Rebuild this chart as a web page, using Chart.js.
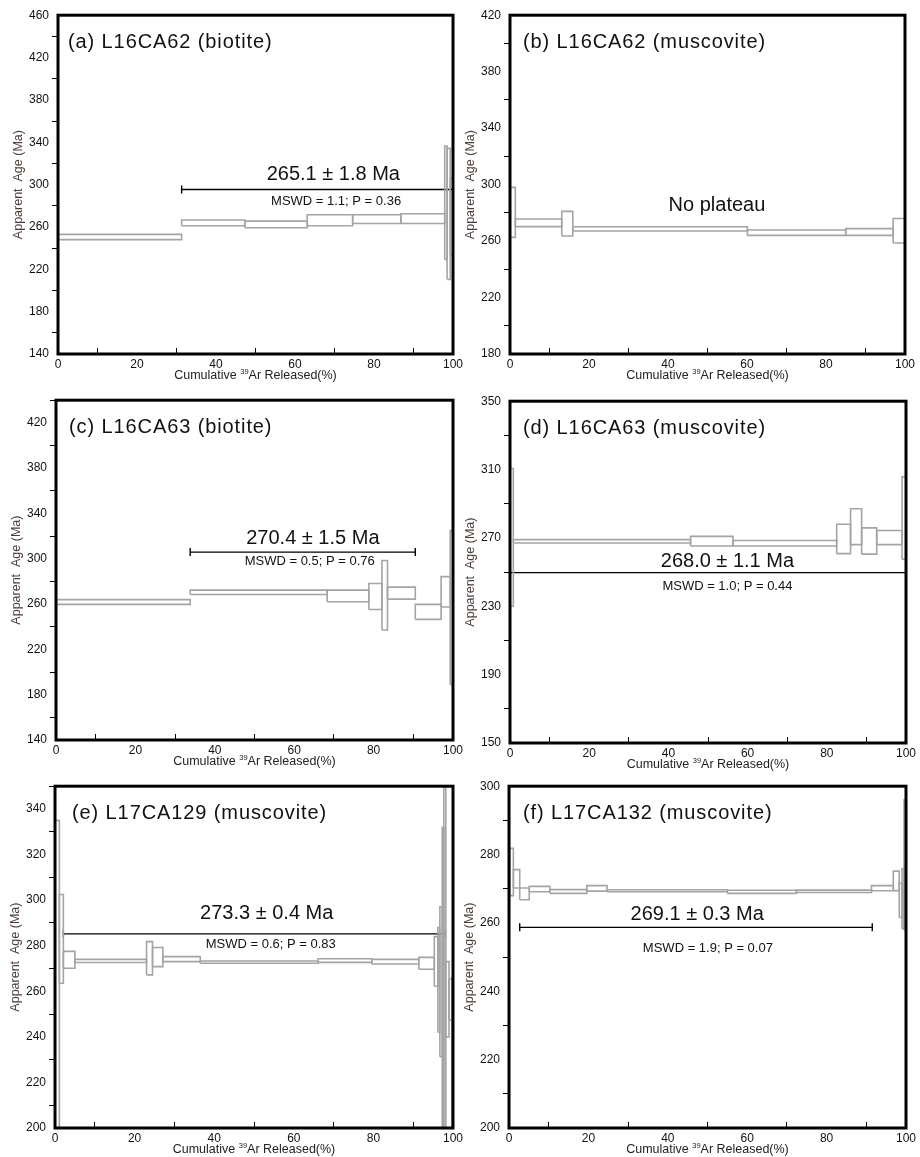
<!DOCTYPE html>
<html>
<head>
<meta charset="utf-8">
<script src="https://cdn.jsdelivr.net/npm/chart.js@4.4.1/dist/chart.umd.min.js"></script>
<style>
  html, body { margin: 0; padding: 0; background: #fff; overflow: hidden; }
  body { width: 920px; height: 1157px; position: relative; }
  canvas { position: absolute; }
</style>
</head>
<body>
<canvas id="pa"></canvas>
<canvas id="pb"></canvas>
<canvas id="pc"></canvas>
<canvas id="pd"></canvas>
<canvas id="pe"></canvas>
<canvas id="pf"></canvas>
<script>
// step edges (cumulative 39Ar %), apparent age (Ma), half height of each box (Ma)
const aEdges = [0, 31.3, 47.3, 63.1, 74.6, 86.8, 97.9, 98.5, 99.3, 100];
const aAges  = [250.5, 263.8, 262.4, 266.3, 267.4, 267.9, 282.9, 272.4, 269.7];
const aErrs  = [2.5, 2.7, 3.1, 5.2, 4.1, 4.6, 53.5, 61.9, 36.2];

const bEdges = [0, 1.35, 13.1, 15.9, 60.1, 85.0, 97.0, 100];
const bAges  = [280.3, 272.9, 272.3, 268.6, 265.9, 266.4, 267.3];
const bErrs  = [17.7, 2.7, 8.7, 1.5, 1.9, 2.4, 8.7];

const cEdges = [0, 33.8, 68.3, 78.8, 82.1, 83.5, 90.5, 97.0, 99.3, 100];
const cAges  = [261.8, 270.4, 267.2, 266.7, 267.8, 269.7, 253.1, 270.8, 257];
const cErrs  = [2.1, 1.9, 5.1, 11.5, 30.7, 5.3, 6.6, 13.4, 68];

const dEdges = [0, 0.84, 45.6, 56.3, 82.5, 86.0, 88.8, 92.6, 99.0, 100];
const dAges  = [270.3, 268.0, 268.1, 266.9, 269.4, 276.6, 268.2, 270.2, 281.6];
const dErrs  = [40.3, 1.0, 2.8, 1.6, 8.6, 10.5, 7.7, 4.1, 24.1];

const eEdges = [0, 1.1, 2.1, 5.0, 23.0, 24.5, 27.1, 36.5, 66.1, 79.6, 91.4, 95.3, 96.2, 96.7, 97.3, 97.7, 98.2, 99.0, 99.7, 100];
const eAges  = [265, 283, 273.8, 273.3, 274.5, 275.0, 274.1, 272.8, 273.5, 273.0, 272.3, 273.1, 265, 264.2, 262, 272, 256.5, 256.4, 232];
const eErrs  = [70, 19.5, 3.7, 0.7, 7.3, 4.2, 1.1, 0.5, 0.8, 1.0, 2.6, 10.9, 23, 32.9, 70, 90, 16.5, 9, 34];

const fEdges = [0, 0.2, 1.1, 2.7, 5.1, 10.3, 19.6, 24.7, 55.0, 72.4, 91.3, 96.8, 98.3, 99.0, 99.5, 100];
const fAges  = [275, 274.9, 272.9, 268.5, 269.9, 269.2, 270.1, 269.4, 269.1, 269.25, 270.15, 272.3, 266.6, 267, 277];
const fErrs  = [11, 6.9, 2.7, 1.7, 0.8, 0.55, 0.8, 0.3, 0.45, 0.35, 0.75, 2.85, 5.0, 8.8, 19];

// plateau bars: [from %, to %, drawn at age]
const aPlateau = [31.3, 100, 295.4];
const cPlateau = [33.8, 90.5, 305.9];
const dPlateau = [0, 100, 249.7];
const ePlateau = [2.1, 98.1, 285.2];
const fPlateau = [2.7, 91.5, 258.7];

const titles = ['(a) L16CA62 (biotite)', '(b) L16CA62 (muscovite)', '(c) L16CA63 (biotite)',
                '(d) L16CA63 (muscovite)', '(e) L17CA129 (muscovite)', '(f) L17CA132 (muscovite)'];
const ageLabels = ['265.1 ± 1.8 Ma', 'No plateau', '270.4 ± 1.5 Ma', '268.0 ± 1.1 Ma', '273.3 ± 0.4 Ma', '269.1 ± 0.3 Ma'];
const mswdLabels = ['MSWD = 1.1; P = 0.36', '', 'MSWD = 0.5; P = 0.76', 'MSWD = 1.0; P = 0.44', 'MSWD = 0.6; P = 0.83', 'MSWD = 1.9; P = 0.07'];

const FONT = "'Liberation Sans', Arial, sans-serif";
const BOX = '#a4a4a4';

// 패널 글자 + 테두리
const panelText = {
  id: 'panelText',
  afterDatasetsDraw(chart, args, o) {
    const { ctx, chartArea: ca, scales: { x, y } } = chart;
    ctx.save();
    ctx.strokeStyle = '#000';
    ctx.lineWidth = 3;
    ctx.strokeRect(ca.left, ca.top, ca.right - ca.left, ca.bottom - ca.top);

    ctx.fillStyle = '#111';
    ctx.textBaseline = 'middle';
    ctx.textAlign = 'left';
    ctx.font = `20px ${FONT}`;
    ctx.letterSpacing = '0.9px';
    ctx.fillText(o.title, ca.left + o.titleDx, ca.top + 27);
    ctx.letterSpacing = '0px';

    ctx.textAlign = 'center';
    ctx.font = `20px ${FONT}`;
    ctx.fillText(o.age, x.getPixelForValue(o.agePos[0]), y.getPixelForValue(o.agePos[1]));
    if (o.mswd) {
      ctx.font = `13px ${FONT}`;
      ctx.fillText(o.mswd, x.getPixelForValue(o.mswdPos[0]), y.getPixelForValue(o.mswdPos[1]));
    }

    // x axis title with superscript 39
    const big = `12.5px ${FONT}`, small = `7.5px ${FONT}`;
    const p1 = 'Cumulative ', p2 = '39', p3 = 'Ar Released(%)';
    ctx.font = big; const w1 = ctx.measureText(p1).width, w3 = ctx.measureText(p3).width;
    ctx.font = small; const w2 = ctx.measureText(p2).width;
    let tx = (ca.left + ca.right) / 2 - (w1 + w2 + w3) / 2;
    const ty = ca.bottom + 25;
    ctx.textAlign = 'left';
    ctx.textBaseline = 'alphabetic';
    ctx.fillStyle = '#222';
    ctx.font = big; ctx.fillText(p1, tx, ty); tx += w1;
    ctx.font = small; ctx.fillText(p2, tx, ty - 5); tx += w2;
    ctx.font = big; ctx.fillText(p3, tx, ty);
    ctx.restore();
  }
};
Chart.register(panelText);

const minorColor = c => (c.tick && c.tick.label === '') ? '#000' : 'rgba(0,0,0,0)';

function makePanel(id, area, yr, edges, ages, errs, plateau, idx, place) {
  const [L, T, R, B] = area;
  const cv = document.getElementById(id);
  cv.width = R - L + 58 + 24;
  cv.height = B - T + 42;
  cv.style.left = (L - 58) + 'px';
  cv.style.top = (T - 10) + 'px';

  const datasets = ages.map((age, i) => {
    const x0 = edges[i], x1 = edges[i + 1], lo = age - errs[i], hi = age + errs[i];
    return {
      data: [{ x: x0, y: lo }, { x: x1, y: lo }, { x: x1, y: hi }, { x: x0, y: hi }, { x: x0, y: lo }],
      borderColor: BOX, borderWidth: 1.6, pointRadius: 0, showLine: true, borderJoinStyle: 'miter',
    };
  });
  if (plateau) {
    datasets.push({
      data: [{ x: plateau[0], y: plateau[2] }, { x: plateau[1], y: plateau[2] }],
      borderColor: '#000', borderWidth: 1.4, showLine: true,
      pointStyle: 'line', rotation: 90, pointRadius: 4, pointBorderColor: '#000', pointBorderWidth: 1.4,
    });
  }

  new Chart(cv, {
    type: 'scatter',
    data: { datasets },
    options: {
      responsive: false,
      animation: false,
      events: [],
      layout: { padding: { top: 10, right: 24, left: 0, bottom: 0 } },
      plugins: {
        legend: { display: false },
        tooltip: { enabled: false },
        panelText: {
          title: titles[idx], titleDx: place.titleDx,
          age: ageLabels[idx], agePos: place.agePos,
          mswd: mswdLabels[idx], mswdPos: place.mswdPos,
        },
      },
      scales: {
        x: {
          type: 'linear', min: 0, max: 100,
          afterFit: s => { s.height = 32; },
          border: { display: false },
          grid: { drawOnChartArea: false, tickLength: -6, color: minorColor, lineWidth: 1 },
          ticks: {
            stepSize: 10, autoSkip: false, maxRotation: 0, padding: 9, color: '#111',
            font: { size: 12, family: FONT },
            callback: v => (v % 20 === 0 ? v : ''),
          },
        },
        y: {
          type: 'linear', min: yr[0], max: yr[1],
          afterFit: s => { s.width = 58; },
          border: { display: false },
          grid: { drawOnChartArea: false, tickLength: 6, color: minorColor, lineWidth: 1 },
          ticks: {
            stepSize: yr[3], autoSkip: false, padding: 3, color: '#111',
            font: { size: 12, family: FONT },
            callback: v => ((v - yr[0]) % yr[2] === 0 ? v : ''),
          },
          title: {
            display: true, text: 'Apparent  Age (Ma)', color: '#4b3e38',
            font: { size: 12.5, family: FONT }, padding: { top: 11.5, bottom: 0 },
          },
        },
      },
    },
  });
}

// area: [left, top, right, bottom]; y range: [min, max, label step, minor step]
makePanel('pa', [58, 15, 453, 354], [140, 460, 40, 20], aEdges, aAges, aErrs, aPlateau, 0,
  { titleDx: 10, agePos: [69.7, 309.9], mswdPos: [70.4, 283.8] });
makePanel('pb', [510, 15, 905, 354], [180, 420, 40, 20], bEdges, bAges, bErrs, null, 1,
  { titleDx: 13, agePos: [52.4, 285.5], mswdPos: [0, 0] });
makePanel('pc', [56, 400, 453, 740], [140, 440, 40, 20], cEdges, cAges, cErrs, cPlateau, 2,
  { titleDx: 13, agePos: [64.7, 318.0], mswdPos: [63.9, 297.4] });
makePanel('pd', [510, 401, 906, 743], [150, 350, 40, 20], dEdges, dAges, dErrs, dPlateau, 3,
  { titleDx: 13, agePos: [54.9, 256.3], mswdPos: [54.9, 241.9] });
makePanel('pe', [55, 786, 453, 1128], [200, 350, 20, 10], eEdges, eAges, eErrs, ePlateau, 4,
  { titleDx: 17, agePos: [53.2, 294.0], mswdPos: [54.2, 280.6] });
makePanel('pf', [509, 786, 906, 1128], [200, 300, 20, 10], fEdges, fAges, fErrs, fPlateau, 5,
  { titleDx: 14, agePos: [47.4, 262.6], mswdPos: [50.1, 252.6] });
</script>
</body>
</html>
